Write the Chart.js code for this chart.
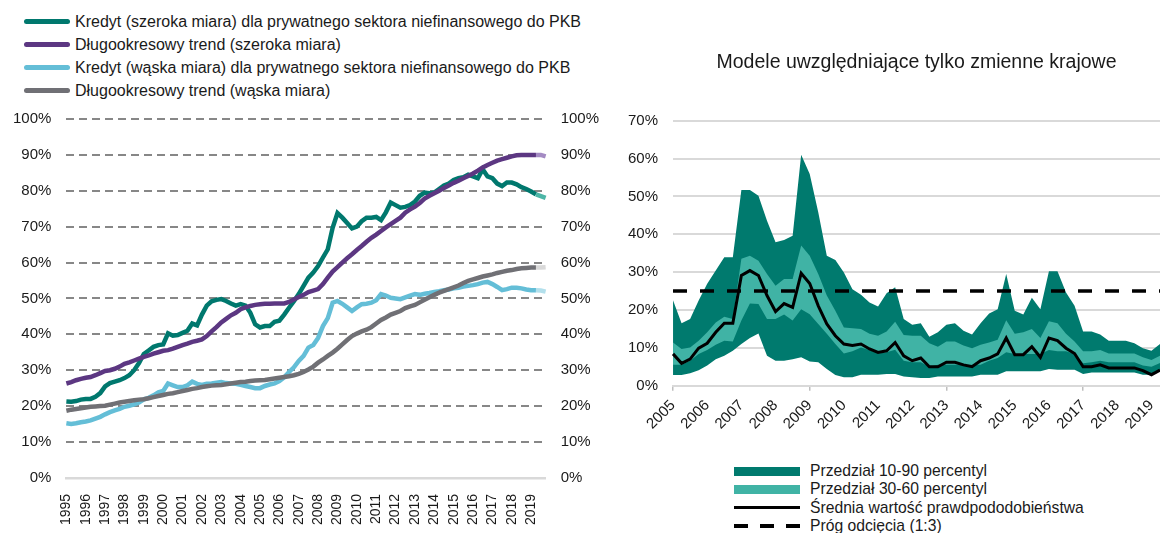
<!DOCTYPE html>
<html>
<head>
<meta charset="utf-8">
<script src="https://cdn.jsdelivr.net/npm/chart.js@4.4.1/dist/chart.umd.min.js"></script>
<style>
  body { margin: 0; width: 1160px; height: 533px; overflow: hidden; background: #fff; position: relative;
         font-family: "Liberation Sans", Arial, sans-serif; color: #1a1a1a; }
  .wrap { position: absolute; }
  .leg { position: absolute; white-space: nowrap; }
  .leg div { display: flex; align-items: center; }
  .leg1 { font-size: 16px; }
  .leg1 div { height: 23px; }
  .leg1 i { display: inline-block; width: 46px; height: 5px; border-radius: 3px; margin-right: 5px; }
  .leg2 { font-size: 15.7px; }
  .leg2 div { height: 18.3px; }
  .leg2 i { display: inline-block; width: 66px; height: 9px; margin-right: 10px; }
</style>
</head>
<body>
<div class="leg leg1" style="left:24px; top:10px;">
  <div><i style="background:#00786e"></i>Kredyt (szeroka miara) dla prywatnego sektora niefinansowego do PKB</div>
  <div><i style="background:#5c3782"></i>Długookresowy trend (szeroka miara)</div>
  <div><i style="background:#64bed7"></i>Kredyt (wąska miara) dla prywatnego sektora niefinansowego do PKB</div>
  <div><i style="background:#707075"></i>Długookresowy trend (wąska miara)</div>
</div>
<div class="wrap" style="left:-2px; top:95px; width:616px; height:446px;"><canvas id="creditChart"></canvas></div>
<div class="wrap" style="left:594px; top:40px; width:616px; height:404px;"><canvas id="modelChart"></canvas></div>
<div class="leg leg2" style="left:734px; top:462px;">
  <div><i style="background:#007a6e"></i>Przedział 10-90 percentyl</div>
  <div><i style="background:#40b3a5"></i>Przedział 30-60 percentyl</div>
  <div><i style="height:3.5px; background:#000"></i>Średnia wartość prawdpododobieństwa</div>
  <div><i style="height:4px; background:repeating-linear-gradient(90deg,#000 0 14px,transparent 14px 26px)"></i>Próg odcięcia (1:3)</div>
</div>
<script>
Chart.defaults.font.family = '"Liberation Sans", Arial, sans-serif';
Chart.defaults.color = '#1a1a1a';

// --- left chart data (quarterly, 1995Q1 - 2019Q4, % of GDP)
const leftYears = ['1995','1996','1997','1998','1999','2000','2001','2002','2003','2004','2005','2006','2007',
  '2008','2009','2010','2011','2012','2013','2014','2015','2016','2017','2018','2019'];
const quarters = ['Q1','Q2','Q3','Q4'];

const creditBroad = [
  21.3,21.2,21.4,21.8, 22.0,22.0,22.6,23.6, 25.5,26.4,26.8,27.2, 27.8,28.6,30.0,32.0, 34.5,35.5,36.5,37.0,
  37.2,40.3,39.6,39.8, 40.4,41.0,43.0,42.5, 45.5,48.0,49.2,49.6, 49.8,49.3,48.6,48.0, 48.4,48.0,46.0,42.8,
  41.9,42.3,42.3,43.5, 43.8,45.5,47.4,49.2, 51.2,53.5,55.8,57.2, 59.0,61.4,63.7,69.7, 73.8,72.5,71.0,69.5,
  70.0,71.5,72.5,72.5, 72.7,71.8,74.0,76.7, 76.0,75.3,75.5,76.0, 77.0,78.6,79.5,79.3, 79.5,80.5,81.5,82.0,
  83.0,83.5,83.8,84.5, 84.0,83.5,86.0,84.0, 83.5,82.0,81.3,82.3, 82.3,81.8,81.0,80.5, 79.8,79.0,78.5,78.0
];
const trendBroad = [
  26.3,26.7,27.2,27.6, 27.9,28.1,28.6,29.2, 29.8,30.0,30.4,31.0, 31.8,32.2,32.7,33.2, 33.7,34.1,34.6,35.0,
  35.4,35.6,36.0,36.5, 37.0,37.4,37.9,38.2, 38.6,39.5,40.8,42.0, 43.3,44.3,45.3,46.0, 47.0,47.5,47.9,48.2,
  48.4,48.5,48.5,48.6, 48.6,48.6,49.0,49.7, 50.4,51.0,51.8,52.2, 52.6,54.0,55.8,57.5, 58.7,60.0,61.2,62.3,
  63.5,64.6,65.8,66.9, 67.8,68.8,69.8,70.7, 71.6,72.5,73.9,74.8, 75.6,76.6,77.8,78.6, 79.3,80.0,80.8,81.5,
  82.2,82.8,83.5,84.1, 84.8,85.6,86.5,87.2, 87.8,88.4,88.8,89.2, 89.6,89.9,90.0,90.0, 90.0,90.0,90.0,89.6
];
const creditNarrow = [
  15.2,15.0,15.2,15.5, 15.7,16.0,16.5,17.0, 17.7,18.3,18.8,19.2, 19.8,20.1,20.5,21.0, 21.9,22.3,23.0,23.8,
  24.2,26.3,25.8,25.3, 25.3,25.8,26.8,26.2, 25.9,26.2,26.3,26.5, 26.7,26.4,26.3,26.2, 25.9,25.6,25.3,25.0,
  25.0,25.6,26.0,26.3, 27.0,28.0,29.5,30.8, 32.6,34.0,36.3,37.0, 39.0,42.3,44.5,48.8, 49.3,48.5,47.5,46.5,
  47.5,48.4,48.5,48.8, 49.5,51.2,50.8,50.2, 50.0,49.8,50.3,50.8, 51.2,51.0,51.3,51.5, 51.8,52.0,52.3,52.5,
  52.8,53.0,53.3,53.5, 53.7,54.0,54.4,54.6, 54.0,53.2,52.3,52.6, 53.0,53.0,52.8,52.5, 52.3,52.3,52.2,51.9
];
const trendNarrow = [
  18.7,19.0,19.2,19.4, 19.6,19.8,19.9,20.0, 20.1,20.4,20.7,21.0, 21.2,21.4,21.6,21.8, 21.9,22.2,22.5,22.8,
  23.1,23.4,23.6,23.9, 24.2,24.5,24.8,25.0, 25.3,25.5,25.7,25.8, 25.9,26.1,26.3,26.5, 26.7,26.8,27.0,27.1,
  27.2,27.3,27.5,27.7, 27.9,28.1,28.3,28.6, 29.0,29.5,30.2,31.0, 32.1,33.0,34.0,34.9, 36.0,37.2,38.4,39.5,
  40.2,40.8,41.3,42.0, 43.0,44.0,44.7,45.5, 46.0,46.5,47.3,47.8, 48.2,48.9,49.6,50.3, 51.0,51.6,52.1,52.6,
  53.1,53.6,54.3,54.9, 55.3,55.7,56.1,56.4, 56.7,57.1,57.4,57.7, 57.9,58.2,58.4,58.5, 58.6,58.6,58.6,58.7
];

// --- right chart data (quarterly, 2005Q1 - 2019Q2, probability in %)
const rightYears = ['2005','2006','2007','2008','2009','2010','2011','2012','2013','2014','2015','2016','2017','2018','2019'];
const pct10 = [
  2.8,2.8,3.3,4.1,5.3,7.0,7.9,9.2,11.0,12.6, 13.8,7.9,6.6,6.6,7.0,7.5,6.4,6.2,4.4,2.8,
  2.2,2.2,2.9,2.9,2.9,3.1,3.1,2.4,2.2,2.0, 2.0,2.4,2.4,2.4,2.4,2.4,2.9,2.9,2.9,3.8,
  3.8,3.8,3.8,3.8,4.4,4.2,4.2,4.2,3.1,3.5, 3.5,3.5,3.5,3.5,3.5,2.9,2.9,3.8
];
const pct90 = [
  22.6,16.5,17.6,22.5,26.9,30.4,33.9,33.9,51.7,51.7, 50.2,43.6,37.9,38.5,39.6,61.0,55.9,45.8,34.3,33.2,
  29.9,25.5,24.0,22.0,20.9,24.4,26.0,17.6,16.1,16.5, 12.9,14.1,16.1,16.5,14.5,13.5,16.5,19.1,20.2,29.5,
  19.8,18.8,23.2,20.2,30.2,30.2,24.6,21.1,14.3,14.3, 13.5,11.9,11.9,11.9,11.2,9.9,9.2,11.0
];
const pct30 = [
  5.5,5.5,6.6,8.4,9.4,10.8,11.9,11.7,17.2,21.7, 21.6,17.6,17.6,18.8,17.2,20.2,18.9,16.3,13.7,11.0,
  8.5,9.1,10.1,9.4,8.5,8.8,9.5,6.6,6.2,6.2, 5.0,5.5,5.5,5.5,5.5,5.5,5.5,6.6,7.3,8.8,
  8.4,8.4,8.4,8.4,9.4,9.1,9.1,8.4,5.9,6.2, 6.6,6.2,6.2,6.2,6.2,5.3,5.0,6.0
];
const pct60 = [
  11.4,9.7,10.1,11.9,14.1,16.7,18.2,17.6,33.5,34.3, 33.0,29.5,26.4,28.2,28.2,37.0,34.3,29.5,23.8,19.8,
  15.4,15.2,15.0,13.7,13.2,14.3,16.9,13.4,13.2,13.2, 11.2,10.3,11.7,11.7,10.6,9.9,10.8,11.4,12.1,17.3,
  13.7,14.1,15.0,12.6,17.0,16.5,13.7,11.7,9.1,9.1, 9.4,8.5,8.5,8.5,8.5,7.5,6.8,7.9
];
const meanProb = [
  8.4,5.9,7.0,9.9,11.2,14.1,16.5,16.5,29.1,30.4, 29.1,23.8,19.6,21.7,20.7,29.7,27.0,21.1,16.3,13.2,
  11.0,10.6,11.0,9.7,8.8,9.2,11.4,7.9,6.6,7.3, 5.0,5.0,6.2,6.2,5.5,5.0,6.6,7.3,8.4,12.6,
  8.2,8.2,10.3,7.5,12.6,11.9,9.9,8.5,5.0,5.0, 5.5,4.7,4.7,4.7,4.7,4.0,2.9,4.1
];
const cutoffLevel = 25;

const pctLabel = v => v + '%';

// ---------- left: credit-to-GDP ----------
const leftLabels = leftYears.flatMap(y => quarters.map(q => y + q));
const lastSeg = creditBroad.length - 3;
function creditLine(label, data, color, fade, order) {
  return {
    label, data, order,
    borderColor: color,
    borderWidth: 4.5,
    pointRadius: 0,
    tension: 0,
    segment: { borderColor: ctx => ctx.p0DataIndex >= lastSeg ? fade : undefined }
  };
}
const leftTicks = { stepSize: 10, padding: 15, font: { size: 15 }, callback: pctLabel };

new Chart(document.getElementById('creditChart'), {
  type: 'line',
  data: {
    labels: leftLabels,
    datasets: [
      creditLine('Kredyt (szeroka miara) dla prywatnego sektora niefinansowego do PKB', creditBroad, '#00786e', '#4db6a7', 4),
      creditLine('Długookresowy trend (szeroka miara)', trendBroad, '#5c3782', '#a48bc3', 3),
      creditLine('Kredyt (wąska miara) dla prywatnego sektora niefinansowego do PKB', creditNarrow, '#64bed7', '#b3e0ec', 2),
      creditLine('Długookresowy trend (wąska miara)', trendNarrow, '#707075', '#d9d9d9', 1)
    ]
  },
  options: {
    responsive: true,
    maintainAspectRatio: false,
    animation: false,
    layout: { padding: { left: 0, right: 0, top: 12, bottom: 0 } },
    plugins: { legend: { display: false }, tooltip: { enabled: false } },
    scales: {
      x: {
        offset: false,
        grid: { display: false, drawTicks: false },
        border: { display: true, color: '#d9d9d9', width: 2.5 },
        ticks: {
          autoSkip: false, minRotation: 90, maxRotation: 90, padding: 16, font: { size: 14 },
          callback: (v, i) => i % 4 === 0 ? leftYears[i / 4] : null
        }
      },
      y: {
        min: 0, max: 100, position: 'left',
        ticks: leftTicks,
        grid: { color: c => c.tick.value === 0 ? 'rgba(0,0,0,0)' : '#878787', lineWidth: 2, drawTicks: false },
        border: { display: false, dash: [8, 5] }
      },
      y2: {
        min: 0, max: 100, position: 'right',
        ticks: leftTicks,
        grid: { display: false, drawTicks: false },
        border: { display: false }
      }
    }
  }
});

// ---------- right: domestic-variable models ----------
const rightLabels = rightYears.flatMap(y => quarters.map(q => y + q)).slice(0, meanProb.length);
const band = (label, data, fill, color) => ({
  label, data, fill, backgroundColor: color, borderWidth: 0, pointRadius: 0, tension: 0
});

new Chart(document.getElementById('modelChart'), {
  type: 'line',
  data: {
    labels: rightLabels,
    datasets: [
      { label: 'Próg odcięcia (1:3)', data: rightLabels.map(() => cutoffLevel), borderColor: '#000',
        borderWidth: 3.5, borderDash: [14, 13], pointRadius: 0, fill: false },
      { label: 'Średnia wartość prawdpododobieństwa', data: meanProb, borderColor: '#000',
        borderWidth: 3, pointRadius: 0, tension: 0, fill: false },
      band('Przedział 30-60 percentyl', pct60, 3, '#40b3a5'),
      band('p30', pct30, false, '#40b3a5'),
      band('Przedział 10-90 percentyl', pct90, 5, '#007a6e'),
      band('p10', pct10, false, '#007a6e')
    ]
  },
  options: {
    responsive: true,
    maintainAspectRatio: false,
    animation: false,
    layout: { padding: { left: 19, right: 50, top: 0, bottom: 5 } },
    plugins: {
      legend: { display: false },
      tooltip: { enabled: false },
      title: {
        display: true,
        fullSize: false,
        text: 'Modele uwzględniające tylko zmienne krajowe',
        font: { size: 19.5, weight: 'normal' },
        color: '#1a1a1a',
        padding: { top: 11.3, bottom: 46 }
      }
    },
    scales: {
      x: {
        offset: false,
        grid: {
          drawOnChartArea: false, drawTicks: true, tickLength: 5, lineWidth: 1.5,
          color: c => c.index % 4 === 0 ? '#bfbfbf' : 'rgba(0,0,0,0)'
        },
        border: { display: true, color: '#d9d9d9', width: 2 },
        ticks: {
          autoSkip: false, minRotation: 45, maxRotation: 45, padding: 6, font: { size: 15 },
          callback: (v, i) => i % 4 === 0 ? rightYears[i / 4] : null
        }
      },
      y: {
        min: 0, max: 70,
        ticks: { stepSize: 10, padding: 15, font: { size: 15 }, callback: pctLabel },
        grid: { color: '#d9d9d9', lineWidth: 2, drawTicks: false },
        border: { display: false }
      }
    }
  }
});
</script>
</body>
</html>
